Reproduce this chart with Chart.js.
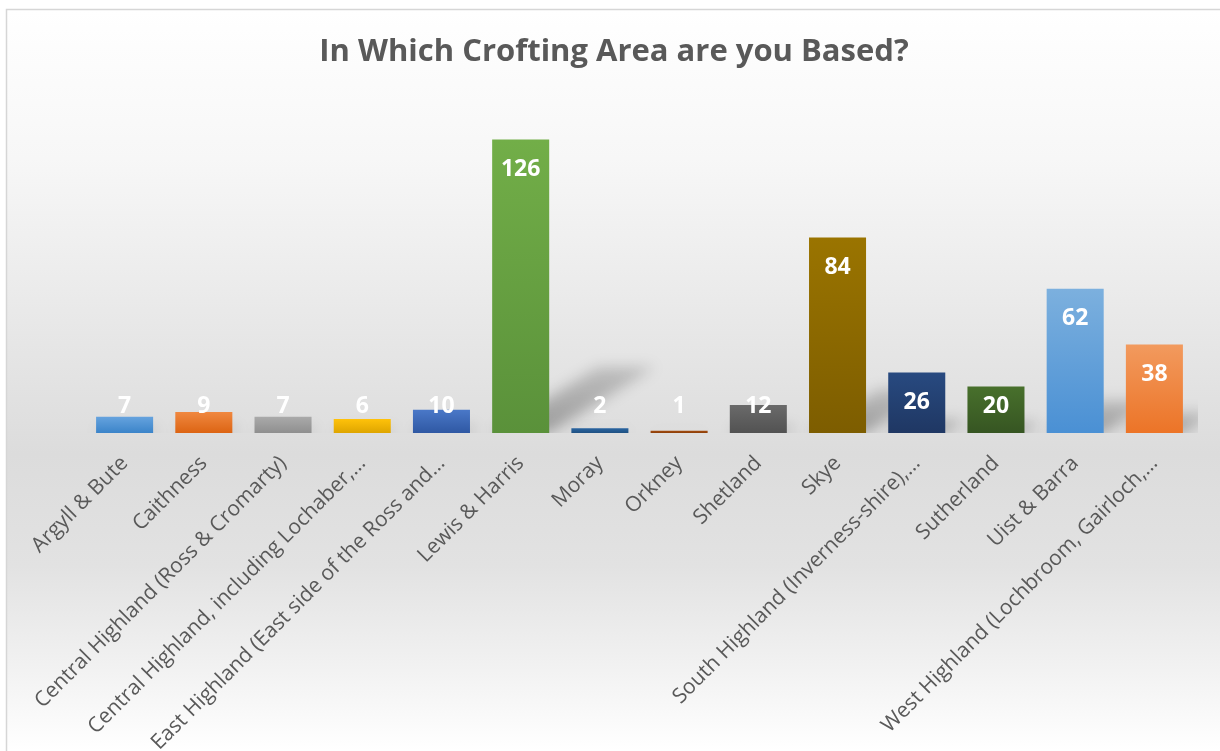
<!DOCTYPE html>
<html>
<head>
<meta charset="utf-8">
<title>In Which Crofting Area are you Based?</title>
<script src="https://cdn.jsdelivr.net/npm/chart.js@4"></script>
<style>
  html, body { margin: 0; padding: 0; background: #fff; }
  #wrap { width: 1220px; height: 751px; }
</style>
</head>
<body>
<div id="wrap"><canvas id="chart" width="1220" height="751"></canvas></div>
<script>
const chartTitle = 'In Which Crofting Area are you Based?';
const areas = [
  'Argyll & Bute',
  'Caithness',
  'Central Highland (Ross & Cromarty)',
  'Central Highland, including Lochaber,…',
  'East Highland (East side of the Ross and…',
  'Lewis & Harris',
  'Moray',
  'Orkney',
  'Shetland',
  'Skye',
  'South Highland (Inverness-shire),…',
  'Sutherland',
  'Uist & Barra',
  'West Highland (Lochbroom, Gairloch,…'
];
const respondents = [7, 9, 7, 6, 10, 126, 2, 1, 12, 84, 26, 20, 62, 38];

// light / dark end of each bar's gradient
const topColors = ['#66a3de', '#f08840', '#aaaaaa', '#ffc20a', '#4a78c8', '#72ae48', '#2a64a0',
                   '#a54d10', '#6a6a6a', '#9a7400', '#284a80', '#48702c', '#7cb0de', '#f29a5e'];
const baseColors = ['#3b84c9', '#dc6413', '#8f8f8f', '#dea500', '#2f58a3', '#5a913a', '#1f5182',
                    '#8c3e09', '#525252', '#7d5d00', '#1f3763', '#365522', '#4a90d4', '#ec7427'];

const FONT = "'Open Sans', 'DejaVu Sans', sans-serif";

function barFill(ctx) {
  const chart = ctx.chart;
  const i = ctx.dataIndex;
  if (!chart.chartArea || i === undefined) return topColors[i] || topColors[0];
  const y = chart.scales.y;
  const g = chart.ctx.createLinearGradient(0, y.getPixelForValue(respondents[i]), 0, y.getPixelForValue(0));
  g.addColorStop(0, topColors[i]);
  g.addColorStop(1, baseColors[i]);
  return g;
}

// page background, frame and heading
const backdrop = {
  id: 'backdrop',
  beforeDraw(chart) {
    const c = chart.ctx;
    const w = chart.width, h = chart.height;
    c.save();
    c.fillStyle = '#ffffff';
    c.fillRect(0, 0, w, h);
    const g = c.createLinearGradient(0, 10, 0, h);
    g.addColorStop(0, '#ffffff');
    g.addColorStop(0.2, '#f7f7f7');
    g.addColorStop(0.45, '#e6e6e6');
    g.addColorStop(0.6, '#dcdcdc');
    g.addColorStop(0.75, '#e2e2e2');
    g.addColorStop(0.9, '#f3f3f3');
    g.addColorStop(1, '#ffffff');
    c.fillStyle = g;
    c.fillRect(7, 10, w - 7, h - 10);
    c.strokeStyle = '#d6d6d6';
    c.lineWidth = 1.5;
    c.beginPath();
    c.moveTo(6.5, h);
    c.lineTo(6.5, 9.5);
    c.lineTo(w, 9.5);
    c.stroke();

    c.fillStyle = '#595959';
    c.font = 'bold 31px ' + FONT;
    c.textAlign = 'center';
    c.textBaseline = 'middle';
    c.fillText(chartTitle, 614, 52);
    c.restore();
  }
};

// soft slanted shadows cast by the bars
const barShadows = {
  id: 'barShadows',
  beforeDatasetsDraw(chart) {
    const c = chart.ctx;
    const area = chart.chartArea;
    const bars = chart.getDatasetMeta(0).data;
    c.save();
    c.beginPath();
    c.rect(area.left, area.top, area.right - area.left + 4, area.bottom - area.top);
    c.clip();
    c.filter = 'blur(7px)';
    bars.forEach(bar => {
      const h = bar.base - bar.y;
      const half = bar.width / 2;
      const dx = h * 0.36, dy = h * 0.225;
      const g = c.createLinearGradient(0, bar.base, 0, bar.base - dy);
      g.addColorStop(0, 'rgba(0,0,0,0.30)');
      g.addColorStop(1, 'rgba(0,0,0,0.16)');
      c.fillStyle = g;
      c.beginPath();
      c.moveTo(bar.x - half, bar.base);
      c.lineTo(bar.x + half, bar.base);
      c.lineTo(bar.x + half + dx, bar.base - dy);
      c.lineTo(bar.x - half + dx, bar.base - dy);
      c.closePath();
      c.fill();
    });
    c.restore();
  }
};

// white value labels at the inside end of each bar
const valueLabels = {
  id: 'valueLabels',
  afterDatasetsDraw(chart) {
    const c = chart.ctx;
    const bars = chart.getDatasetMeta(0).data;
    c.save();
    c.fillStyle = '#ffffff';
    c.font = 'bold 23px ' + FONT;
    c.textAlign = 'center';
    c.textBaseline = 'middle';
    bars.forEach((bar, i) => {
      const y = Math.min(bar.y + 30, bar.base - 27);
      c.fillText(String(respondents[i]), bar.x, y);
    });
    c.restore();
  }
};

new Chart(document.getElementById('chart'), {
  type: 'bar',
  data: {
    labels: areas,
    datasets: [{
      data: respondents,
      backgroundColor: barFill,
      borderWidth: 0,
      barPercentage: 0.72,
      categoryPercentage: 1
    }]
  },
  options: {
    responsive: false,
    animation: false,
    devicePixelRatio: 1,
    layout: { padding: { left: 85, right: 26, top: 107, bottom: 0 } },
    plugins: {
      legend: { display: false },
      tooltip: { enabled: false },
      title: { display: false }
    },
    scales: {
      x: {
        grid: { display: false },
        border: { display: false },
        ticks: {
          color: '#595959',
          font: { family: FONT, size: 21 },
          autoSkip: false,
          maxRotation: 45,
          minRotation: 45,
          padding: 10
        },
        afterFit(scale) { scale.height = 318; }
      },
      y: {
        display: false,
        min: 0,
        max: 140
      }
    }
  },
  plugins: [backdrop, barShadows, valueLabels]
});
</script>
</body>
</html>
